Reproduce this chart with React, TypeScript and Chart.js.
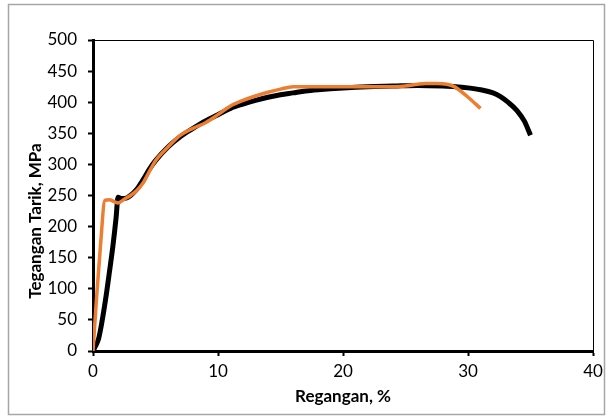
import React, { useEffect, useRef } from "react";
import { Chart, registerables } from "chart.js";

Chart.register(...registerables);

const blackStrain = [0, 0.2, 0.45, 0.7, 1.0, 1.3, 1.6, 1.85, 2.0, 2.3, 2.7, 3.0, 3.5, 4.0, 4.5, 5.0, 6.0, 7.0, 8.0, 9.0, 10.0, 11.0, 12.0, 13.0, 14.0, 15.0, 16.0, 17.0, 18.0, 20.0, 22.0, 24.0, 26.0, 28.0, 29.0, 30.0, 31.0, 32.0, 32.6, 33.2, 33.9, 34.5, 35.0];
const blackStress = [0, 8, 20, 45, 82, 125, 170, 215, 247, 245, 246, 250, 260, 275, 292, 306, 328, 345, 358, 370, 380, 390, 397, 403, 408, 412, 415, 418, 420, 423, 425, 426, 427, 426, 425, 423, 420, 415, 409, 400, 387, 370, 347];

const orangeStrain = [0, 0.3, 0.6, 0.95, 1.3, 1.7, 2.0, 2.5, 3.0, 3.5, 4.0, 4.6, 5.0, 6.0, 7.0, 8.0, 9.0, 10.0, 11.0, 12.0, 13.0, 14.0, 15.0, 16.0, 18.0, 20.0, 22.0, 24.0, 25.0, 26.0, 26.6, 27.5, 28.3, 28.9, 30.0, 31.0];
const orangeStress = [0, 90, 170, 242, 243, 240, 238, 244, 250, 258, 270, 292, 306, 328, 347, 358, 367, 380, 394, 403, 410, 416, 421, 425, 425, 425, 425, 425, 426, 429, 430, 430, 429, 425, 408, 390];

const xTicks = [0, 10, 20, 30, 40];
const yMax = 500;
const yStep = 50;
const xTitle = "Regangan, %";
const yTitle = "Tegangan Tarik, MPa";

const FONT = "Lato";

const toPoints = (xs: number[], ys: number[]) => xs.map((x, i) => ({ x, y: ys[i] }));

const framePlugin = {
  id: "frame",
  beforeDraw(chart: any) {
    const { ctx, width, height } = chart;
    ctx.save();
    ctx.fillStyle = "#ffffff";
    ctx.fillRect(0, 0, width, height);
    ctx.strokeStyle = "#a6a6a6";
    ctx.lineWidth = 1.5;
    ctx.strokeRect(8.5, 4.5, 596, 410);
    ctx.restore();
  },
  afterDraw(chart: any) {
    const { ctx, chartArea } = chart;
    ctx.save();
    ctx.strokeStyle = "#000000";
    ctx.lineWidth = 1;
    ctx.beginPath();
    ctx.moveTo(chartArea.left, chartArea.top + 0.5);
    ctx.lineTo(chartArea.right + 0.5, chartArea.top + 0.5);
    ctx.lineTo(chartArea.right + 0.5, chartArea.bottom);
    ctx.stroke();
    // y axis title
    ctx.translate(36, 221);
    ctx.rotate(-Math.PI / 2);
    ctx.fillStyle = "#000";
    ctx.font = `bold 17px ${FONT}`;
    ctx.textAlign = "center";
    ctx.textBaseline = "middle";
    ctx.fillText(yTitle, 0, 0);
    ctx.restore();
  },
};

export default function App() {
  const ref = useRef<HTMLCanvasElement | null>(null);
  useEffect(() => {
    if (!ref.current) return;
    const chart = new Chart(ref.current, {
      type: "scatter",
      data: {
        datasets: [
          {
            label: "B",
            data: toPoints(orangeStrain, orangeStress),
            showLine: true,
            borderColor: "#ED7D31",
            borderWidth: 3.5,
            pointRadius: 0,
            cubicInterpolationMode: "monotone",
          },
          {
            label: "A",
            data: toPoints(blackStrain, blackStress),
            showLine: true,
            borderColor: "#000000",
            borderWidth: 5,
            pointRadius: 0,
            cubicInterpolationMode: "monotone",
          },
        ],
      },
      options: {
        animation: false,
        responsive: false,
        layout: { padding: { top: 40, right: 16, left: 0, bottom: 0 } },
        plugins: { legend: { display: false }, tooltip: { enabled: false } },
        scales: {
          x: {
            type: "linear",
            min: 0,
            max: 40,
            afterFit: (s: any) => { s.height = 67; },
            afterBuildTicks: (s: any) => { s.ticks = xTicks.map((v) => ({ value: v })); },
            border: { display: true, color: "#000", width: 3 },
            grid: { drawOnChartArea: false, drawTicks: true, tickLength: 5, tickWidth: 2, tickColor: "#000" },
            ticks: { color: "#000", font: { family: FONT, size: 17 }, padding: 5 },
            title: { display: true, text: xTitle, color: "#000", font: { family: FONT, size: 17, weight: "bold" }, padding: { top: 0, bottom: 11 } },
          },
          y: {
            type: "linear",
            min: 0,
            max: yMax,
            afterFit: (s: any) => { s.width = 93; },
            border: { display: true, color: "#000", width: 3 },
            grid: { drawOnChartArea: false, drawTicks: true, tickLength: 5, tickWidth: 2, tickColor: "#000" },
            ticks: { stepSize: yStep, color: "#000", font: { family: FONT, size: 17 }, padding: 11 },
            title: { display: false },
          },
        },
      },
      plugins: [framePlugin],
    });
    return () => chart.destroy();
  }, []);
  return (
    <div style={{ position: "fixed", left: 0, top: 0, width: 609, height: 418 }}>
      <canvas ref={ref} width={609} height={418} style={{ display: "block" }} />
    </div>
  );
}
